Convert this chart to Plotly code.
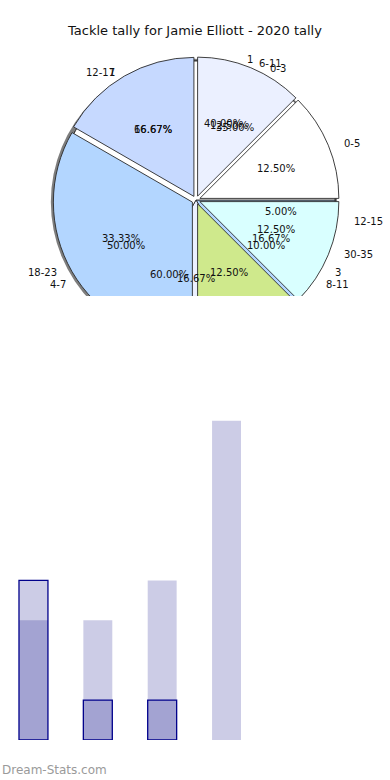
import math
import plotly.graph_objects as go

# ---------------- data ----------------
title_text = "Tackle tally for Jamie Elliott - 2020 tally"

# pie layers (drawn bottom -> top), matplotlib style: start at 3 o'clock, counter-clockwise
band_labels = ["0-3", "4-7", "8-11", "12-15"]
band_counts = [7, 10, 2, 1]

qtr_labels = ["1", "2"]
qtr_counts = [2, 3]

tally_labels = ["1", "2", "3"]
tally_counts = [4, 1, 1]

minute_labels = ["0-5", "6-11", "12-17", "18-23", "24-29", "30-35"]
minute_counts = [3, 3, 4, 8, 3, 3]

# bar chart
bar_x = [0, 1, 2, 3]
bar_total = [4, 3, 4, 8]
bar_fill = [3, 1, 1, 0]
bar_edge = [4, 1, 1, 0]

# ---------------- styling / geometry ----------------
W, H = 390, 780
CX, CY, R = 196, 200, 139       # pie centre / radius in px
TCX, TCY, TRX, TRY = 196, 199, 144, 133   # text placement ellipse (original axes were not square)
PULL = 0.03
CLIP_Y = 296                    # pie is hidden below this line
FONT = "DejaVu Sans"
EDGE = "#2a2a2a"

band_colors = ["#ebf0ff", "#c6d9ff", "#b3d6ff", "#d9ffff"]
qtr_colors = ["#ebf0ff", "#c6d9ff"]
tally_colors = ["#ffffff", "#ebf0ff", "#b3d6ff"]
minute_colors = ["#ffffff", "#ebf0ff", "#c6d9ff", "#b3d6ff", "#cfe98c", "#d9ffff"]


def dom(cx, cy, half):
    return dict(x=[(cx - half) / W, (cx + half) / W],
                y=[1 - (cy + half) / H, 1 - (cy - half) / H])


def pie_trace(labels, counts, colors, pull, cx=CX, cy=CY):
    # reversed + clockwise from 3 o'clock == counter-clockwise from 3 o'clock
    return go.Pie(
        labels=list(reversed(labels)), values=list(reversed(counts)),
        marker=dict(colors=list(reversed(colors)), line=dict(color=EDGE, width=0.9)),
        pull=[pull] * len(counts), sort=False, direction="clockwise", rotation=90,
        textinfo="none", hoverinfo="skip", showlegend=False,
        domain=dom(cx, cy, R * (1 + pull)),
    )


def pie_annotations(labels, counts):
    anns = []
    total = float(sum(counts))
    start = 0.0
    for lab, c in zip(labels, counts):
        theta = 360.0 * c / total
        mid = math.radians(start + theta / 2)
        start += theta
        cs, sn = math.cos(mid), math.sin(mid)
        # percentage inside
        px, py = TCX + 0.6 * TRX * cs, TCY - 0.6 * TRY * sn
        if py < CLIP_Y - 4:
            anns.append(dict(x=px / W, y=1 - py / H, xref="paper", yref="paper",
                             text=f"{100.0 * c / total:.2f}%", showarrow=False,
                             xanchor="center", yanchor="middle",
                             font=dict(family=FONT, size=10, color="#111111")))
        # label outside
        px, py = TCX + 1.1 * TRX * cs, TCY - 1.1 * TRY * sn
        if py < CLIP_Y - 4:
            anns.append(dict(x=px / W, y=1 - py / H, xref="paper", yref="paper",
                             text=lab, showarrow=False,
                             xanchor="left" if cs > 0 else "right", yanchor="middle",
                             font=dict(family=FONT, size=10, color="#111111")))
    return anns


fig = go.Figure()

# shadow
fig.add_trace(go.Pie(labels=["shadow"], values=[sum(minute_counts)],
                     marker=dict(colors=["rgba(40,40,40,0.6)"], line=dict(width=0)),
                     textinfo="none", hoverinfo="skip", showlegend=False, sort=False,
                     domain=dom(CX - 2, CY + 2, R * (1 + PULL))))
fig.add_trace(pie_trace(band_labels, band_counts, band_colors, 0.0))
fig.add_trace(pie_trace(qtr_labels, qtr_counts, qtr_colors, 0.0))
fig.add_trace(pie_trace(tally_labels, tally_counts, tally_colors, 0.0))
fig.add_trace(pie_trace(minute_labels, minute_counts, minute_colors, PULL))

annotations = []
annotations += pie_annotations(band_labels, band_counts)
annotations += pie_annotations(qtr_labels, qtr_counts)
annotations += pie_annotations(tally_labels, tally_counts)
annotations += pie_annotations(minute_labels, minute_counts)

# bars
BAR_W = 0.45
fig.add_trace(go.Bar(x=bar_x, y=bar_total, width=BAR_W,
                     marker=dict(color="rgba(0,0,128,0.2)", line=dict(width=0)),
                     hoverinfo="skip", showlegend=False))
fig.add_trace(go.Bar(x=bar_x, y=bar_fill, width=BAR_W,
                     marker=dict(color="rgba(0,0,128,0.2)", line=dict(width=0)),
                     hoverinfo="skip", showlegend=False))
fig.add_trace(go.Bar(x=bar_x, y=bar_edge, width=BAR_W,
                     marker=dict(color="rgba(0,0,0,0)",
                                 line=dict(color="#00008b",
                                           width=[1.3 if v > 0 else 0 for v in bar_edge])),
                     hoverinfo="skip", showlegend=False))

# watermark
annotations.append(dict(x=0, y=1 - 770 / H, xref="paper", yref="paper",
                        text="Dream-Stats.com", showarrow=False,
                        xanchor="left", yanchor="middle",
                        font=dict(family=FONT, size=12, color="#9a9a9a")))

PX_PER_UNIT = 39.9
fig.update_layout(
    width=W, height=H,
    margin=dict(l=0, r=0, t=0, b=0),
    paper_bgcolor="white", plot_bgcolor="white",
    barmode="overlay",
    title=dict(text=title_text, x=0.5, xanchor="center", y=1 - 30 / H, yanchor="middle",
               font=dict(family=FONT, size=13, color="#111111")),
    xaxis=dict(domain=[0, 1], range=[-0.52, 5.54], visible=False, fixedrange=True),
    yaxis=dict(domain=[40 / H, 480 / H], range=[0, 440 / PX_PER_UNIT], visible=False, fixedrange=True),
    annotations=annotations,
    shapes=[dict(type="rect", xref="paper", yref="paper", layer="above",
                 x0=0, x1=1, y0=1 - 380 / H, y1=1 - CLIP_Y / H,
                 fillcolor="white", line=dict(width=0))],
)

fig.write_html("out.html", config={"displayModeBar": False},
               post_script="document.body.style.margin='0';document.body.style.overflow='hidden';")
